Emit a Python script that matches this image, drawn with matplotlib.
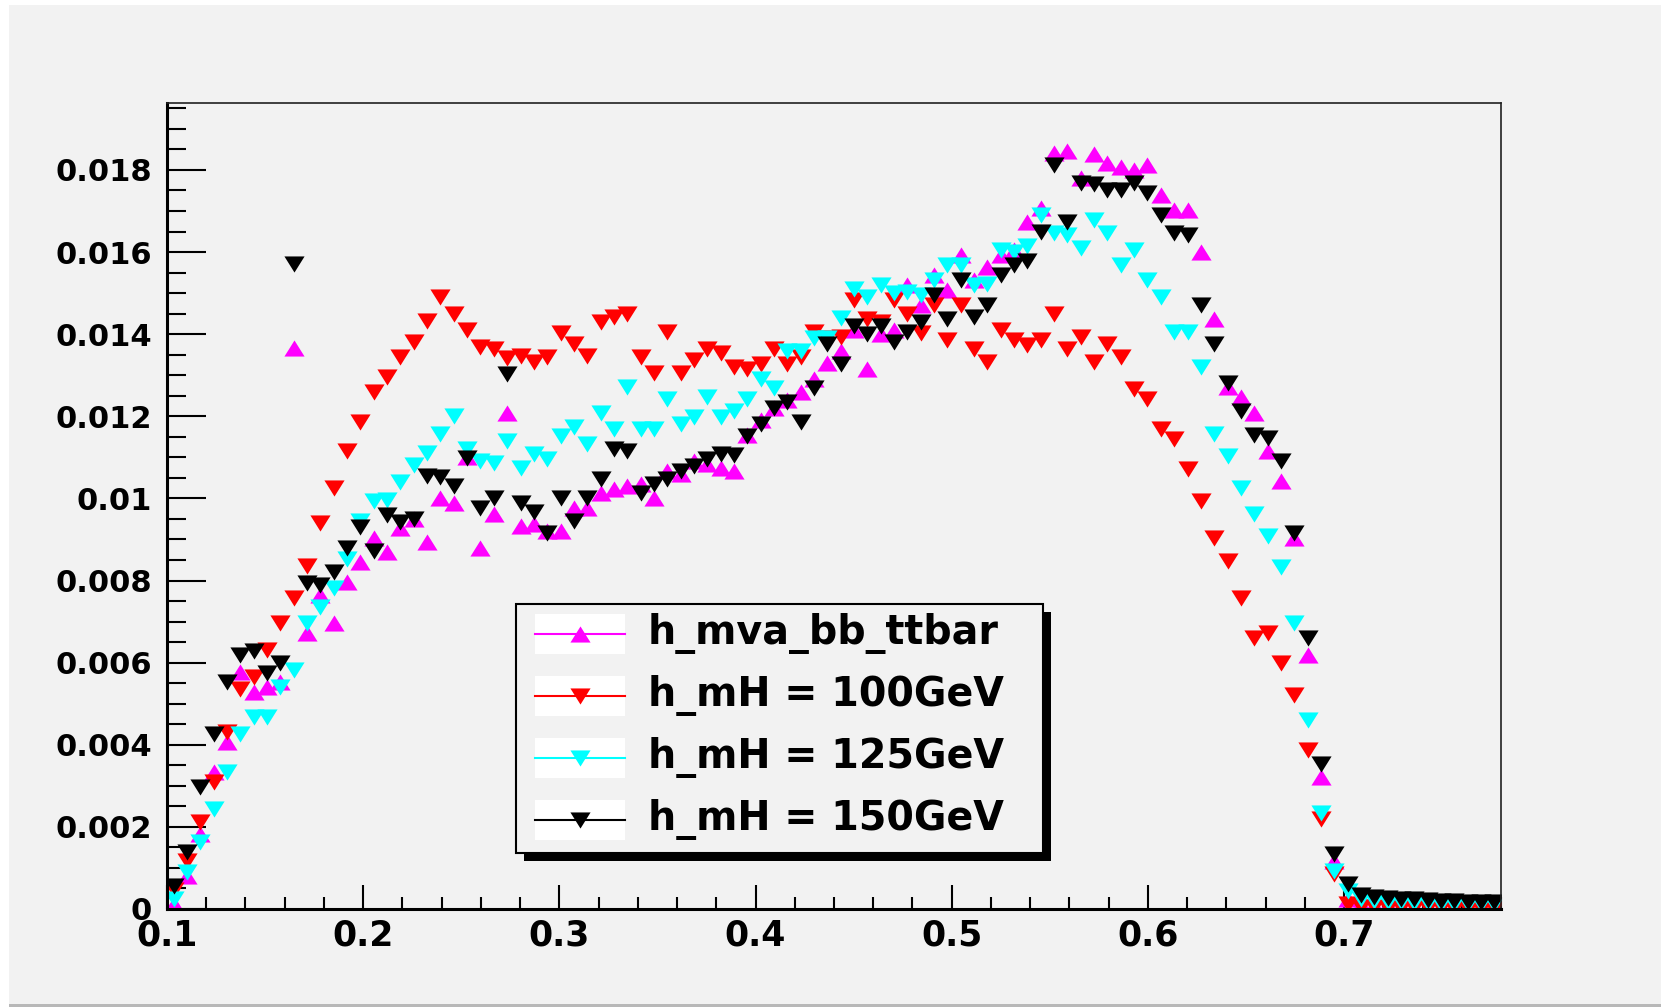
import numpy as np
import matplotlib
matplotlib.use('Agg')
import matplotlib.pyplot as plt
from matplotlib.patches import Rectangle
from matplotlib.lines import Line2D

# histogram contents, in units of 1e-3, 100 bins from 0.1 to 0.78
mva_bb_ttbar = [0.13, 0.80, 1.83, 3.34, 4.07, 5.76, 5.28, 5.40, 5.52, 13.67, 6.73,
                7.64, 6.97, 7.96, 8.45, 9.03, 8.69, 9.27, 9.51, 8.93, 10.0, 9.88,
                11.0, 8.79, 9.63, 12.08, 9.33, 9.37, 9.21, 9.21, 9.76, 9.76, 10.12,
                10.24, 10.3, 10.34, 10.0, 10.66, 10.6, 10.91, 10.85, 10.73, 10.67, 11.55,
                11.9, 12.2, 12.4, 12.6, 12.9, 13.3, 13.6, 14.1, 13.15, 14.0, 14.1,
                15.2, 14.7, 15.45, 15.08, 15.93, 15.32, 15.63, 15.93, 16.05, 16.72, 17.08,
                18.41, 18.47, 17.8, 18.4, 18.17, 18.08, 18.01, 18.13, 17.38, 17.02, 17.02,
                15.99, 14.36, 12.72, 12.48, 12.08, 11.15, 10.42, 9.03, 6.18, 3.22, 1.16,
                0.25, 0.12, 0.10, 0.10, 0.08, 0.08, 0.07, 0.07, 0.06, 0.06, 0.06, 0.05]

mH_100 = [0.46, 1.18, 2.13, 3.10, 4.31, 5.37, 5.64, 6.30, 6.97, 7.58, 8.36,
          9.39, 10.26, 11.15, 11.87, 12.60, 12.96, 13.45, 13.81, 14.33, 14.90, 14.50,
          14.11, 13.69, 13.65, 13.41, 13.48, 13.33, 13.45, 14.02, 13.75, 13.48, 14.29,
          14.42, 14.50, 13.45, 13.05, 14.05, 13.05, 13.36, 13.63, 13.53, 13.21, 13.15,
          13.27, 13.65, 13.27, 13.45, 14.05, 13.9, 13.93, 14.84, 14.36, 14.3, 14.84,
          14.48, 14.02, 14.72, 13.87, 14.70, 13.63, 13.33, 14.11, 13.87, 13.73, 13.87,
          14.48, 13.63, 13.93, 13.33, 13.75, 13.45, 12.66, 12.42, 11.69, 11.45, 10.72,
          9.94, 9.03, 8.48, 7.58, 6.61, 6.73, 6.0, 5.21, 3.88, 2.19, 0.86,
          0.12, 0.05, 0.04, 0.03, 0.03, 0.02, 0.02, 0.02, 0.01, 0.01, 0.01, 0.01]

mH_125 = [0.25, 0.89, 1.64, 2.43, 3.34, 4.25, 4.67, 4.67, 5.40, 5.82, 6.97,
          7.36, 7.82, 8.52, 9.45, 9.94, 9.97, 10.39, 10.82, 11.11, 11.57, 12.0,
          11.21, 10.91, 10.87, 11.39, 10.73, 11.09, 10.97, 11.51, 11.75, 11.33, 12.08,
          11.69, 12.72, 11.69, 11.69, 12.42, 11.81, 11.99, 12.48, 11.99, 12.12, 12.42,
          12.9, 12.7, 13.6, 13.6, 13.9, 13.9, 14.4, 15.1, 14.9, 15.2, 15.0,
          15.02, 14.96, 15.32, 15.69, 15.69, 15.2, 15.23, 16.05, 15.99, 16.15, 16.9,
          16.47, 16.41, 16.11, 16.78, 16.47, 15.69, 16.05, 15.32, 14.9, 14.05, 14.05,
          13.2, 11.57, 11.03, 10.26, 9.63, 9.09, 8.33, 6.97, 4.61, 2.35, 0.92,
          0.45, 0.25, 0.20, 0.18, 0.16, 0.15, 0.14, 0.13, 0.13, 0.12, 0.12, 0.12]

mH_150 = [0.55, 1.38, 2.98, 4.25, 5.54, 6.18, 6.28, 5.74, 6.00, 15.71, 7.94,
          7.88, 8.21, 8.79, 9.30, 8.73, 9.60, 9.42, 9.51, 10.54, 10.51, 10.30,
          10.99, 9.76, 10.0, 13.02, 9.90, 9.66, 9.15, 10.0, 9.45, 10.02, 10.48,
          11.21, 11.15, 10.12, 10.36, 10.48, 10.66, 10.78, 10.97, 11.09, 11.06, 11.51,
          11.8, 12.2, 12.35, 11.87, 12.7, 13.75, 13.27, 14.2, 14.0, 14.2, 13.8,
          14.05, 14.30, 14.96, 14.36, 15.32, 14.42, 14.70, 15.45, 15.69, 15.78, 16.5,
          18.11, 16.72, 17.69, 17.65, 17.50, 17.50, 17.69, 17.44, 16.9, 16.47, 16.41,
          14.72, 13.77, 12.81, 12.12, 11.55, 11.47, 10.9, 9.15, 6.61, 3.52, 1.34,
          0.62, 0.35, 0.30, 0.28, 0.25, 0.24, 0.22, 0.20, 0.20, 0.18, 0.18, 0.16]

labels = ['h_mva_bb_ttbar', 'h_mH = 100GeV', 'h_mH = 125GeV', 'h_mH = 150GeV']
colours = ['#ff00ff', '#ff0000', '#00ffff', '#000000']
yticks = [0, 0.002, 0.004, 0.006, 0.008, 0.01, 0.012, 0.014, 0.016, 0.018]
ytick_labels = ['0', '0.002', '0.004', '0.006', '0.008', '0.01', '0.012', '0.014', '0.016', '0.018']
xticks = [0.1, 0.2, 0.3, 0.4, 0.5, 0.6, 0.7]
xtick_labels = ['0.1', '0.2', '0.3', '0.4', '0.5', '0.6', '0.7']

x_lo, x_hi, n_bins = 0.1, 0.78, 100
edges = np.linspace(x_lo, x_hi, n_bins + 1)
centres = 0.5 * (edges[:-1] + edges[1:])

tri_up = [(-1, -0.8), (1, -0.8), (0, 0.8)]
tri_down = [(-1, 0.8), (1, 0.8), (0, -0.8)]
markers = [tri_up, tri_down, tri_down, tri_down]
ms = 14.5

bg = '#f2f2f2'
W, H = 1661, 1008
fig = plt.figure(figsize=(W / 100, H / 100), dpi=100, facecolor='white')


def fx(px):
    return px / W


def fy(py):
    return 1 - py / H


# canvas
fig.add_artist(Rectangle((fx(9), fy(1005)), fx(W - 9), fy(5) - fy(1005),
                         transform=fig.transFigure, facecolor=bg, edgecolor='none', zorder=-5))
fig.add_artist(Rectangle((fx(9), fy(1007)), fx(W - 9), fy(1004) - fy(1007),
                         transform=fig.transFigure, facecolor='#b8b8b8', edgecolor='none', zorder=-4))

ax = fig.add_axes([fx(167), fy(909), fx(1501) - fx(167), fy(103) - fy(909)])
ax.set_facecolor(bg)

series = [mva_bb_ttbar, mH_100, mH_125, mH_150]
for vals, col, mk in zip(series, colours, markers):
    ax.plot(centres, np.array(vals) * 1e-3, linestyle='none', marker=mk, ms=ms,
            color=col, markeredgewidth=0, clip_on=True)

ax.set_xlim(x_lo, x_hi)
ax.set_ylim(0, 0.01963)

ax.set_yticks(yticks)
ax.set_yticklabels(ytick_labels)
ax.set_yticks(np.arange(0, 0.0196, 0.0005), minor=True)
ax.set_xticks(xticks)
ax.set_xticklabels(xtick_labels)
ax.set_xticks(np.arange(0.1, 0.781, 0.02), minor=True)

ax.tick_params(axis='y', which='major', direction='in', length=28, width=1.5,
               pad=11, labelsize=22, right=False)
ax.tick_params(axis='y', which='minor', direction='in', length=14, width=1.5, right=False)
ax.tick_params(axis='x', which='major', direction='in', length=17, width=1.5,
               pad=7, labelsize=25, top=False)
ax.tick_params(axis='x', which='minor', direction='in', length=8.5, width=1.5, top=False)
for lab in ax.get_xticklabels() + ax.get_yticklabels():
    lab.set_fontweight('bold')
    lab.set_family('DejaVu Sans')

for s in ['left', 'bottom']:
    ax.spines[s].set_linewidth(2.2)
for s in ['top', 'right']:
    ax.spines[s].set_linewidth(1.2)
    ax.spines[s].set_color('#222222')

# legend box with shadow, drawn by hand
lx0, ly0, lx1, ly1 = 516, 604, 1043, 853
shadow = 8
fig.add_artist(Rectangle((fx(lx0 + shadow), fy(ly1 + shadow)), fx(lx1 - lx0), fy(ly0) - fy(ly1),
                         transform=fig.transFigure, facecolor='black', edgecolor='none', zorder=5))
fig.add_artist(Rectangle((fx(lx0), fy(ly1)), fx(lx1 - lx0), fy(ly0) - fy(ly1),
                         transform=fig.transFigure, facecolor=bg, edgecolor='black',
                         linewidth=1.5, zorder=6))
rows = [634, 696, 758, 820]
for row, lab, col, mk in zip(rows, labels, colours, markers):
    fig.add_artist(Rectangle((fx(535), fy(row + 20)), fx(625 - 535), fy(row - 20) - fy(row + 20),
                             transform=fig.transFigure, facecolor='white', edgecolor='none', zorder=7))
    fig.add_artist(Line2D([fx(535), fx(625)], [fy(row), fy(row)], transform=fig.transFigure,
                          color=col, linewidth=1.5, zorder=8))
    fig.add_artist(Line2D([fx(580)], [fy(row)], transform=fig.transFigure, color=col,
                          marker=mk, ms=ms, markeredgewidth=0, linestyle='none', zorder=9))
    fig.text(fx(648), fy(row), lab, fontsize=28.5, fontweight='bold', family='DejaVu Sans',
             va='center', ha='left', zorder=10)

fig.savefig('out.png', dpi=100, facecolor=fig.get_facecolor())
